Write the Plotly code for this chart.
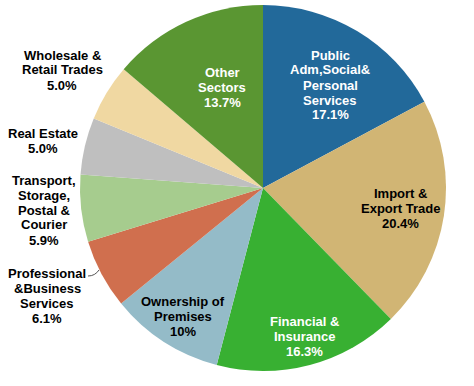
import plotly.graph_objects as go

labels = ["Public Adm,Social& Personal Services", "Import & Export Trade", "Financial & Insurance",
          "Ownership of Premises", "Professional &Business Services", "Transport, Storage, Postal & Courier",
          "Real Estate", "Wholesale & Retail Trades", "Other Sectors"]
values = [17.1, 20.4, 16.3, 10, 6.1, 5.9, 5.0, 5.0, 13.7]
colors = ["#22699A", "#D1B574", "#38B032", "#94BBC8", "#D06F4E", "#A6CC8E", "#BFBFBF", "#F0D8A2", "#5A9632"]
label_lines = [["Public", "Adm,Social&", "Personal", "Services", "17.1%"],
               ["Import &", "Export Trade", "20.4%"],
               ["Financial &", "Insurance", "16.3%"],
               ["Ownership of", "Premises", "10%"],
               ["Professional", "&Business", "Services", "6.1%"],
               ["Transport,", "Storage,", "Postal &", "Courier", "5.9%"],
               ["Real Estate", "5.0%"],
               ["Wholesale &", "Retail Trades", "5.0%"],
               ["Other", "Sectors", "13.7%"]]
label_colors = ["white", "black", "white", "black", "black", "black", "black", "black", "white"]
# label centres in pixels
label_px = [(330, 85), (400, 208), (304, 336), (183, 316), (47, 296), (44, 210), (43, 141), (62, 70), (222, 87)]

W, H = 474, 386
cx, cy, r = 263, 188, 183
LINE = 15

fig = go.Figure(go.Pie(
    labels=labels, values=values, sort=False, direction="clockwise", rotation=0,
    marker=dict(colors=colors, line=dict(width=0)),
    textinfo="none", hoverinfo="label+percent",
    domain=dict(x=[(cx - r) / W, (cx + r) / W], y=[1 - (cy + r) / H, 1 - (cy - r) / H]),
))

annotations = []
for lines, c, (px, py) in zip(label_lines, label_colors, label_px):
    n = len(lines)
    for i, t in enumerate(lines):
        ly = py + (i - (n - 1) / 2) * LINE
        annotations.append(dict(text="<b>" + t + "</b>", x=px / W, y=1 - ly / H, xref="paper", yref="paper",
                                showarrow=False, xanchor="center", yanchor="middle",
                                font=dict(family="Liberation Sans, Arial", size=13, color=c)))
fig.update_layout(
    width=W, height=H, margin=dict(l=0, r=0, t=0, b=0),
    paper_bgcolor="white", showlegend=False, annotations=annotations,
    shapes=[dict(type="path", xref="paper", yref="paper",
                 path=f"M {88/W},{1-276/H} Q {95/W},{1-276/H} {99/W},{1-270/H}",
                 line=dict(color="#555555", width=1))],
)

fig.write_html("out.html", config={"displayModeBar": False},
               post_script="document.body.style.margin='0';")
